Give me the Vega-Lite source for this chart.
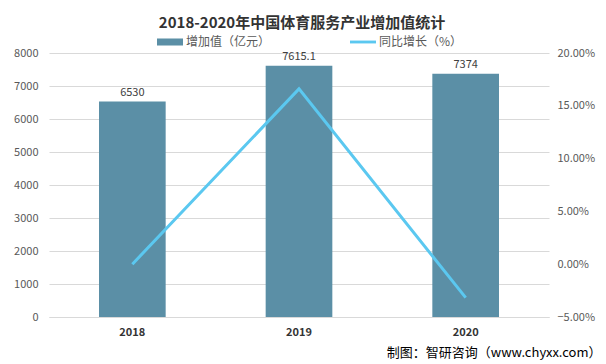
{
  "$schema": "https://vega.github.io/schema/vega-lite/v6.json",
  "width": 500,
  "height": 264,
  "autosize": {"type": "none"},
  "padding": {"left": 49, "top": 53, "right": 57, "bottom": 47},
  "background": "white",
  "config": {
    "font": "Noto Sans CJK SC",
    "view": {"stroke": null}
  },
  "title": {
    "text": "2018-2020年中国体育服务产业增加值统计",
    "fontSize": 15,
    "fontWeight": "bold",
    "color": "#333333",
    "anchor": "middle",
    "dx": 3,
    "offset": -2
  },
  "data": {
    "values": [
      {"year": "2018", "value": 6530, "growth": 0.0, "s1": "增加值（亿元）", "s2": "同比增长（%）"},
      {"year": "2019", "value": 7615.1, "growth": 0.166, "s1": "增加值（亿元）", "s2": "同比增长（%）"},
      {"year": "2020", "value": 7374, "growth": -0.0317, "s1": "增加值（亿元）", "s2": "同比增长（%）"}
    ]
  },
  "encoding": {
    "x": {
      "field": "year",
      "type": "nominal",
      "scale": {"paddingInner": 0.6, "paddingOuter": 0.3},
      "axis": {
        "title": "制图：智研咨询（www.chyxx.com）",
        "titleFontSize": 13,
        "titleFontWeight": "normal",
        "titleColor": "#000000",
        "titleX": 552,
        "titleY": 35,
        "titleAlign": "right",
        "titleBaseline": "middle",
        "labelAngle": 0,
        "labelFontWeight": "bold",
        "labelFontSize": 11,
        "labelColor": "#333333",
        "labelPadding": 9,
        "ticks": false,
        "domainColor": "#D9D9D9"
      }
    }
  },
  "layer": [
    {
      "encoding": {
        "y": {
          "field": "value",
          "type": "quantitative",
          "scale": {"domain": [0, 8000]},
          "axis": {
            "title": null,
            "values": [0, 1000, 2000, 3000, 4000, 5000, 6000, 7000, 8000],
            "labelOverlap": false,
            "grid": true,
            "gridColor": "#D9D9D9",
            "domain": false,
            "ticks": false,
            "labelPadding": 11,
            "labelFontSize": 11,
            "labelColor": "#595959",
            "format": "d"
          }
        }
      },
      "layer": [
        {
          "mark": {"type": "bar", "color": "#5B8FA6"},
          "encoding": {
            "color": {
              "field": "s1",
              "type": "nominal",
              "scale": {"domain": ["增加值（亿元）", "同比增长（%）"], "range": ["#5B8FA6", "#5BC8F0"]},
              "legend": {
                "title": null,
                "orient": "none",
                "direction": "horizontal",
                "legendX": 108,
                "legendY": -24,
                "symbolSize": 676,
                "labelFontSize": 12,
                "labelColor": "#595959",
                "labelOffset": 3,
                "columnPadding": 79,
                "symbolStrokeWidth": 0,
                "encode": {
                  "symbols": {
                    "update": {
                      "shape": {"signal": "datum.value == '增加值（亿元）' ? 'M-1,-0.27H1V0.27H-1Z' : 'M-1,-0.11H1V0.11H-1Z'"}
                    }
                  }
                }
              }
            }
          }
        },
        {
          "mark": {"type": "text", "dy": -9, "fontSize": 11, "color": "#404040"},
          "encoding": {
            "text": {"field": "value", "type": "quantitative"}
          }
        }
      ]
    },
    {
      "mark": {"type": "line", "strokeWidth": 3},
      "encoding": {
        "y": {
          "field": "growth",
          "type": "quantitative",
          "scale": {"domain": [-0.05, 0.2]},
          "axis": {
            "title": null,
            "orient": "right",
            "values": [-0.05, 0, 0.05, 0.1, 0.15, 0.2],
            "labelOverlap": false,
            "format": ".2%",
            "grid": false,
            "domain": false,
            "ticks": false,
            "labelPadding": 8,
            "labelFontSize": 11,
            "labelColor": "#595959"
          }
        },
        "color": {"field": "s2", "type": "nominal"}
      }
    }
  ],
  "resolve": {"scale": {"y": "independent"}}
}
